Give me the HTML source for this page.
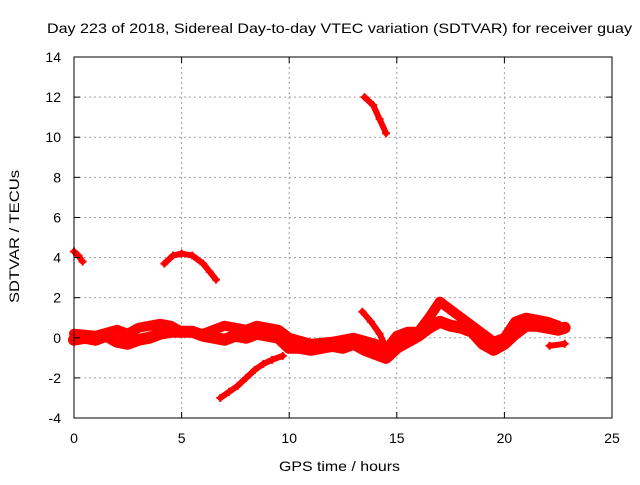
<!DOCTYPE html>
<html><head><meta charset="utf-8"><style>
body{margin:0;background:#fff;}
svg text{font-family:"Liberation Sans",sans-serif;font-size:14px;fill:#000;}
</style></head><body>
<svg width="640" height="480" id="c">
<rect width="640" height="480" fill="#fff"/>
<g id="grid"></g><g id="data"></g><g id="axes"></g>
<text x="47" y="33" textLength="585" lengthAdjust="spacingAndGlyphs">Day 223 of 2018, Sidereal Day-to-day VTEC variation (SDTVAR) for receiver guay</text>
<text x="279" y="471" textLength="121" lengthAdjust="spacingAndGlyphs">GPS time / hours</text>
<text transform="translate(19,303) rotate(-90)" textLength="133" lengthAdjust="spacingAndGlyphs">SDTVAR / TECUs</text>
</svg>
<script>
const xTicks=[0,5,10,15,20,25];
const yTicks=[-4,-2,0,2,4,6,8,10,12,14];
const lowerBandT=[0,0.5,1,1.5,2,2.5,3,3.5,4,4.5,5,5.5,6,6.5,7,7.5,8,8.5,9,9.5,10,10.5,11,11.5,12,12.5,13,13.5,14,14.5,15,15.5,16,16.5,17,17.5,18,18.5,19,19.5,20,20.5,21,21.5,22,22.5,22.8];
const lowerBandV=[-0.1,0,-0.1,0.1,-0.2,-0.3,-0.1,0,0.2,0.3,0.3,0.3,0.1,0,-0.1,0.1,0,0.2,0.1,0,-0.5,-0.5,-0.6,-0.5,-0.4,-0.5,-0.3,-0.6,-0.8,-1.0,-0.5,-0.2,0.1,0.5,0.8,0.6,0.5,0.3,-0.3,-0.6,-0.3,0.2,0.6,0.6,0.5,0.4,0.5];
const upperBandT=[0,1,2,2.5,3,3.5,4,4.5,5,6,7,7.5,8,8.5,9,9.5,10,11,12,13,14,14.5,15,15.5,16,16.5,17,17.5,18,18.5,19,19.5,20,20.5,21,21.5,22,22.5];
const upperBandV=[0.2,0.1,0.4,0.2,0.5,0.6,0.7,0.6,0.3,0.2,0.6,0.5,0.4,0.6,0.5,0.4,0,-0.3,-0.2,0,-0.3,-0.6,0.1,0.3,0.3,1.0,1.8,1.4,1.0,0.6,0.2,-0.2,0,0.8,1.0,0.9,0.8,0.6];
const descT=[6.8,7.2,7.6,8,8.4,8.8,9.2,9.7];
const descV=[-3.0,-2.7,-2.4,-2.0,-1.6,-1.3,-1.1,-0.9];
const highT=[13.5,13.9,14.2,14.5];
const highV=[12.0,11.6,10.9,10.2];
const startT=[0,0.2,0.4];
const startV=[4.3,4.1,3.8];
const arcT=[4.2,4.6,5,5.5,6,6.3,6.6];
const arcV=[3.7,4.1,4.2,4.1,3.7,3.3,2.9];
const dipT=[13.4,13.8,14.2,14.5];
const dipV=[1.3,0.8,0.2,-0.5];
const tailT=[22.1,22.8];
const tailV=[-0.4,-0.3];

const X0=74,X1=612,Y0=418,Y1=57;
const sx=t=>X0+(t-0)/(25-0)*(X1-X0);
const sy=v=>Y0-(v+4)/(14+4)*(Y0-Y1);
const NS="http://www.w3.org/2000/svg";
function mk(tag,attrs,parent){const e=document.createElementNS(NS,tag);for(const k in attrs)e.setAttribute(k,attrs[k]);parent.appendChild(e);return e;}
const grid=document.getElementById('grid'),axes=document.getElementById('axes'),data=document.getElementById('data');
xTicks.forEach(t=>{
  if(t>0&&t<25){const l=mk('line',{x1:sx(t),x2:sx(t),y1:Y1,y2:Y0,stroke:'#a0a0a0','stroke-dasharray':'2,3'},grid);
  
  }
  mk('line',{x1:sx(t),x2:sx(t),y1:Y0,y2:Y0-6,stroke:'#000'},axes);
  mk('line',{x1:sx(t),x2:sx(t),y1:Y1,y2:Y1+6,stroke:'#000'},axes);
  const tx=mk('text',{x:sx(t),y:Y0+25,'text-anchor':'middle'},axes);tx.textContent=t;
  
  
});
yTicks.forEach(v=>{
  if(v>-4&&v<14){const l=mk('line',{x1:X0,x2:X1,y1:sy(v),y2:sy(v),stroke:'#a0a0a0','stroke-dasharray':'2,3'},grid);
  
  }
  mk('line',{x1:X0,x2:X0+6,y1:sy(v),y2:sy(v),stroke:'#000'},axes);
  mk('line',{x1:X1,x2:X1-6,y1:sy(v),y2:sy(v),stroke:'#000'},axes);
  const tx=mk('text',{x:X0-13,y:sy(v)+5,'text-anchor':'end'},axes);tx.textContent=v;
  
  
});
const fr=mk('rect',{x:X0,y:Y1,width:X1-X0,height:Y0-Y1,fill:'none',stroke:'#000'},axes);


function track(T,V,w,name){
  const pts=T.map((t,i)=>sx(t)+','+sy(V[i])).join(' ');
  const p=mk('polyline',{points:pts,fill:'none',stroke:'#f00','stroke-width':w,'stroke-linejoin':'round','stroke-linecap':'round'},data);
  
  
  T.forEach((t,i)=>{
    const x=sx(t),y=sy(V[i]);
    const m=mk('path',{d:`M${x-4},${y}H${x+4}M${x},${y-4}V${y+4}`,stroke:'#f00','stroke-width':2},data);
    
    
  });
}
track(lowerBandT,lowerBandV,12,'lower-band');
track(upperBandT,upperBandV,10,'upper-band');
track(descT,descV,6,'descending-track');
track(highT,highV,6,'high-track');
track(startT,startV,6,'start-track');
track(arcT,arcV,6,'arc-track');
track(dipT,dipV,6,'dip-track');
track(tailT,tailV,6,'tail-track');
</script>
</body></html>
